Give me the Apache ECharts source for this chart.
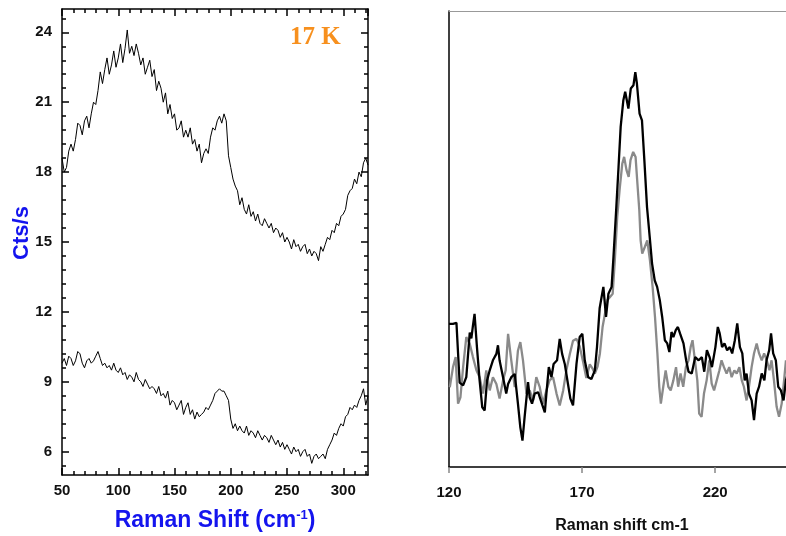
<!DOCTYPE html>
<html>
<head>
<meta charset="utf-8">
<script src="https://cdn.jsdelivr.net/npm/echarts@6/dist/echarts.min.js"></script>
<style>
html,body{margin:0;padding:0;background:#fff;}
#c{width:786px;height:536px;}
</style>
</head>
<body>
<div id="c"></div>
<script>
// ---- left panel (17 K) ----
var shiftLeft = [50,52,54,56,58,60,62,64,66,68,70,72,74,76,78,80,82,84,86,88,90,92,94,96,98,100,102,104,106,108,110,112,114,116,118,120,122,124,126,128,130,132,134,136,138,140,142,144,146,148,150,152,154,156,158,160,162,164,166,168,170,172,174,176,178,180,182,184,186,188,190,192,194,196,198,200,202,204,206,208,210,212,214,216,218,220,222,224,226,228,230,232,234,236,238,240,242,244,246,248,250,252,254,256,258,260,262,264,266,268,270,272,274,276,278,280,282,284,286,288,290,292,294,296,298,300,302,304,306,308,310,312,314,316,318,320,322];
var upperCts = [18.6,18.0,18.2,18.9,19.2,18.9,19.4,20.1,20.0,19.6,
20.2,20.4,19.9,20.5,21.0,20.9,21.5,22.3,21.8,22.4,
22.9,22.2,22.6,23.2,22.5,22.9,23.5,22.7,23.3,24.1,
23.1,23.4,23.0,23.5,23.1,22.6,22.9,22.2,22.5,22.8,
22.1,22.4,21.5,21.9,21.6,21.0,21.4,20.5,20.9,20.3,
20.5,19.8,19.9,20.2,19.5,19.8,19.5,19.9,19.2,19.4,
18.9,19.2,18.4,18.8,19.0,18.8,19.5,19.9,19.8,20.2,
20.4,20.1,20.5,20.2,18.7,18.2,17.7,17.4,17.2,16.6,
16.9,16.4,16.2,16.6,16.1,16.3,15.9,16.2,15.8,15.7,
16.0,15.8,15.6,15.8,15.4,15.6,15.5,15.2,15.4,15.0,
15.2,15.0,14.7,15.1,14.8,14.9,14.6,14.8,14.9,14.5,
14.7,14.4,14.6,14.5,14.2,14.8,14.6,14.9,15.2,15.1,
15.5,15.4,15.8,15.7,16.1,16.2,16.4,17.0,17.2,17.3,
17.7,17.5,18.0,17.8,18.4,18.6,18.3];
var lowerCts = [9.8,10.0,9.7,10.1,10.0,9.7,9.9,10.3,10.2,9.8,
9.6,9.9,10.0,9.8,9.9,10.1,10.3,10.0,9.7,9.8,
9.6,9.7,9.5,9.8,9.5,9.4,9.6,9.3,9.4,9.1,
9.3,9.2,9.0,9.4,9.1,9.0,8.8,9.1,8.9,8.7,
8.8,8.7,8.5,8.8,8.4,8.5,8.3,8.6,8.0,8.2,
8.1,7.8,8.0,8.2,7.6,7.9,8.1,7.6,7.8,7.4,
7.7,7.5,7.6,7.7,7.9,7.8,8.0,8.2,8.5,8.6,
8.7,8.6,8.6,8.4,8.2,7.4,7.0,7.2,6.9,7.1,
6.9,6.8,7.1,6.7,6.9,6.8,6.6,6.9,6.7,6.5,
6.7,6.6,6.4,6.7,6.5,6.3,6.5,6.2,6.4,6.1,
6.3,6.1,5.9,6.2,6.0,6.1,5.8,6.0,6.1,5.8,
5.9,5.5,5.8,5.9,5.7,5.8,5.9,5.7,6.1,6.3,
6.5,6.8,6.7,7.0,7.2,7.1,7.5,7.6,7.9,7.8,
8.0,7.9,8.2,8.4,8.7,8.0,8.4];
var leftYTicks = [6,9,12,15,18,21,24];

// ---- right panel ----
var blackShift = [120.0,121.5,122.8,123.4,124.0,125.3,126.5,127.8,128.4,129.0,129.6,130.5,131.5,132.5,133.4,134.3,135.3,136.5,137.8,138.4,139.0,140.3,141.5,142.2,143.4,144.7,145.9,146.8,147.6,148.4,149.7,150.3,151.2,152.2,153.5,154.7,156.0,156.6,157.5,158.5,159.3,160.6,161.6,162.5,163.5,164.7,165.6,166.6,167.9,169.1,170.1,171.0,172.3,173.5,174.8,175.6,176.6,178.0,179.0,179.9,181.1,181.8,182.8,183.7,184.5,185.5,186.2,187.4,188.3,189.3,190.0,190.6,191.6,192.5,193.4,194.4,195.4,196.3,197.3,198.2,199.2,200.1,201.1,202.0,202.8,203.6,204.3,205.2,206.0,206.8,208.1,209.1,210.0,211.2,212.5,213.8,215.0,215.9,216.9,217.9,218.8,220.1,221.0,221.7,222.6,223.5,224.5,225.5,226.4,227.4,228.3,229.3,230.2,231.1,231.8,232.7,233.7,234.6,235.6,236.5,237.5,238.5,239.3,240.3,241.0,241.8,242.8,243.7,244.7,245.7,246.6,247.5];
var blackCts = [31.4,31.4,31.6,25.0,18.5,17.9,19.7,29.5,28.2,31.0,33.6,26.3,19.0,13.1,12.4,19.0,21.2,23.4,24.8,26.7,23.4,19.7,16.1,18.2,19.7,20.4,13.9,8.7,5.8,10.9,18.6,15.3,13.9,16.1,16.4,14.2,12.0,16.1,21.9,19.7,22.6,23.4,28.1,24.8,22.6,18.2,15.0,13.5,22.6,28.5,29.2,23.4,19.7,19.3,21.2,26.3,34.8,39.5,32.9,38.0,39.5,46.1,56.3,65.8,74.6,80.4,82.3,78.6,83.0,83.7,86.6,84.1,77.5,76.0,67.3,57.0,50.5,44.6,40.9,39.5,36.6,32.9,27.8,27.1,25.2,29.6,28.5,30.0,30.7,29.3,27.1,23.4,20.9,20.5,24.1,23.4,24.1,20.9,25.6,24.1,21.9,26.3,30.7,29.3,26.3,27.1,25.6,26.3,24.9,27.8,31.5,26.3,24.9,19.0,20.5,16.1,14.6,10.3,16.1,17.6,20.5,19.0,23.4,25.6,29.3,24.9,23.4,17.6,16.8,14.6,19.0,21.0];
var greyShift = [120.3,121.5,122.5,123.4,124.3,125.3,126.5,127.8,129.0,130.3,131.5,132.8,134.0,135.3,136.5,137.8,139.0,140.3,141.3,142.2,143.4,144.7,145.9,146.8,147.8,149.1,150.3,151.6,152.8,154.1,155.3,156.6,157.8,159.1,160.4,161.6,162.9,164.1,165.4,166.6,167.9,169.1,170.4,171.6,172.9,174.0,174.8,175.8,176.7,177.7,178.6,179.5,180.5,181.5,182.3,183.2,184.2,185.1,185.8,186.7,187.5,188.2,189.2,190.1,190.7,191.5,192.0,192.6,193.6,194.5,195.5,196.5,197.4,198.3,199.0,199.6,200.5,201.4,202.4,203.3,204.3,205.3,206.1,207.0,208.0,209.0,210.0,210.8,211.5,212.4,213.3,214.0,214.9,215.8,216.8,217.8,218.7,219.6,220.6,221.6,222.4,223.3,224.3,225.3,226.2,227.2,228.1,229.1,230.0,230.8,231.8,232.7,233.7,234.6,235.6,236.5,237.5,238.4,239.4,240.4,241.2,242.1,243.1,244.0,245.0,245.9,246.6];
var greyCts = [17.5,21.9,24.1,13.9,15.3,21.9,28.5,27.0,24.1,21.2,19.7,16.1,21.2,16.8,19.7,18.2,15.0,19.0,21.2,29.2,23.4,17.5,25.5,27.4,23.4,16.1,16.8,14.6,19.7,17.5,13.9,16.8,19.0,19.7,16.1,13.5,16.8,21.2,24.8,27.7,28.1,26.5,23.0,19.5,22.5,21.5,20.5,22.0,24.9,30.7,33.6,36.6,37.3,38.0,45.3,54.8,61.4,66.5,68.0,65.1,63.6,67.3,69.1,68.0,62.9,56.3,49.7,46.8,48.3,49.7,45.3,39.5,32.9,24.9,17.6,13.9,17.6,21.2,17.6,16.8,19.0,21.9,17.6,20.5,17.6,21.9,23.4,26.3,27.8,23.4,19.0,11.7,11.0,16.1,19.0,23.4,18.3,16.8,19.0,21.2,23.4,21.9,20.5,21.9,19.7,21.2,20.5,21.9,19.0,17.6,14.6,17.6,21.9,24.9,27.1,24.9,23.4,24.9,23.4,21.2,23.4,19.0,13.2,11.0,13.9,19.0,23.4];
var rightXTicks = [120,170,220];

function zip(a,b){var r=[];for(var i=0;i<a.length;i++)r.push([a[i],b[i]]);return r;}
// minor tick positions for the left y axis (every 0.6 between majors)
var leftYMinor=[];
for(var v=5.4;v<25;v+=0.6){var t=Math.round(v*10)/10; if(leftYTicks.indexOf(t)<0) leftYMinor.push(t);}
var leftXMinor=[];
for(var xv=60;xv<=322;xv+=10){if(xv%50!==0) leftXMinor.push(xv);}

var BLUE='#1414ee';
var FONT='Liberation Sans, Arial, sans-serif';
var lblFont={fontFamily:FONT,fontWeight:'bold',fontSize:15,color:'#111'};
var frameLine={show:true,lineStyle:{color:'#000',width:1.5}};

var chart=echarts.init(document.getElementById('c'),null,{renderer:'canvas'});
var option={
  animation:false,
  backgroundColor:'#fff',
  grid:[
    {left:62,top:9,width:306,height:466,outerBoundsMode:'none',containLabel:false},
    {left:449,top:11,width:346,height:456,outerBoundsMode:'none',containLabel:false}
  ],
  xAxis:[
    {gridIndex:0,type:'value',min:50,max:322,interval:50,position:'bottom',
     axisLine:frameLine,
     axisTick:{show:true,inside:true,length:7,lineStyle:{color:'#000',width:1.5}},
     splitLine:{show:false},
     axisLabel:Object.assign({margin:8,showMaxLabel:false},lblFont),
     name:'{a|Raman Shift (cm}{s|-1}{a|)}',nameLocation:'middle',nameGap:34,
     nameTextStyle:{rich:{
       a:{fontFamily:FONT,fontWeight:'bold',fontSize:23,color:BLUE},
       s:{fontFamily:FONT,fontWeight:'bold',fontSize:13,color:BLUE,verticalAlign:'top',padding:[0,0,10,0]}
     }}},
    {gridIndex:0,type:'value',min:50,max:322,interval:50,position:'top',
     axisLine:frameLine,
     axisTick:{show:true,inside:true,length:7,lineStyle:{color:'#000',width:1.5}},
     splitLine:{show:false},axisLabel:{show:false}},
    {gridIndex:0,type:'value',min:50,max:322,position:'bottom',
     axisLine:{show:false},
     axisTick:{show:true,inside:true,length:4,customValues:leftXMinor,lineStyle:{color:'#000',width:1.5}},
     splitLine:{show:false},axisLabel:{show:false}},
    {gridIndex:0,type:'value',min:50,max:322,position:'top',
     axisLine:{show:false},
     axisTick:{show:true,inside:true,length:4,customValues:leftXMinor,lineStyle:{color:'#000',width:1.5}},
     splitLine:{show:false},axisLabel:{show:false}},
    {gridIndex:1,type:'value',min:120,max:250,interval:50,position:'bottom',
     axisLine:{show:true,lineStyle:{color:'#000',width:1.5}},
     axisTick:{show:true,inside:false,length:6,lineStyle:{color:'#888',width:1.5}},
     splitLine:{show:false},
     axisLabel:Object.assign({margin:18,showMaxLabel:false},lblFont),
     name:'Raman shift cm-1',nameLocation:'middle',nameGap:51,
     nameTextStyle:{fontFamily:FONT,fontWeight:'bold',fontSize:16,color:'#111'}},
    {gridIndex:1,type:'value',min:120,max:250,position:'top',
     axisLine:{show:true,lineStyle:{color:'#999',width:1}},
     axisTick:{show:false},splitLine:{show:false},axisLabel:{show:false}}
  ],
  yAxis:[
    {gridIndex:0,type:'value',min:5,max:25,position:'left',
     axisLine:frameLine,
     axisTick:{show:true,inside:true,length:7,customValues:leftYTicks,lineStyle:{color:'#000',width:1.5}},
     splitLine:{show:false},
     axisLabel:Object.assign({margin:10,customValues:leftYTicks},lblFont)},
    {gridIndex:0,type:'value',min:5,max:25,position:'right',
     axisLine:frameLine,
     axisTick:{show:true,inside:true,length:7,customValues:leftYTicks,lineStyle:{color:'#000',width:1.5}},
     splitLine:{show:false},axisLabel:{show:false}},
    {gridIndex:0,type:'value',min:5,max:25,position:'left',
     axisLine:{show:false},
     axisTick:{show:true,inside:true,length:4,customValues:leftYMinor,lineStyle:{color:'#000',width:1.5}},
     splitLine:{show:false},axisLabel:{show:false}},
    {gridIndex:0,type:'value',min:5,max:25,position:'right',
     axisLine:{show:false},
     axisTick:{show:true,inside:true,length:4,customValues:leftYMinor,lineStyle:{color:'#000',width:1.5}},
     splitLine:{show:false},axisLabel:{show:false}},
    {gridIndex:1,type:'value',min:0,max:100,position:'left',
     axisLine:{show:true,lineStyle:{color:'#000',width:1.5}},
     axisTick:{show:false},splitLine:{show:false},axisLabel:{show:false}}
  ],
  series:[
    {type:'line',xAxisIndex:0,yAxisIndex:0,data:zip(shiftLeft,upperCts),symbol:'none',
     lineStyle:{color:'#000',width:1},silent:true},
    {type:'line',xAxisIndex:0,yAxisIndex:0,data:zip(shiftLeft,lowerCts),symbol:'none',
     lineStyle:{color:'#000',width:1},silent:true},
    {type:'line',xAxisIndex:4,yAxisIndex:4,data:zip(greyShift,greyCts),symbol:'none',
     lineStyle:{color:'#8a8a8a',width:2.3},silent:true},
    {type:'line',xAxisIndex:4,yAxisIndex:4,data:zip(blackShift,blackCts),symbol:'none',
     lineStyle:{color:'#000',width:2.3},silent:true}
  ],
  graphic:[
    {type:'text',left:290,top:25,style:{text:'17 K',fill:'#f7901e',
      font:'bold 25px "Liberation Serif", "Times New Roman", serif'}},
    {type:'text',x:22,y:233,rotation:Math.PI/2,
     style:{text:'Cts/s',fill:BLUE,align:'center',verticalAlign:'middle',
      font:'bold 22px "Liberation Sans", Arial, sans-serif'}}
  ]
};
chart.setOption(option);
</script>
</body>
</html>
